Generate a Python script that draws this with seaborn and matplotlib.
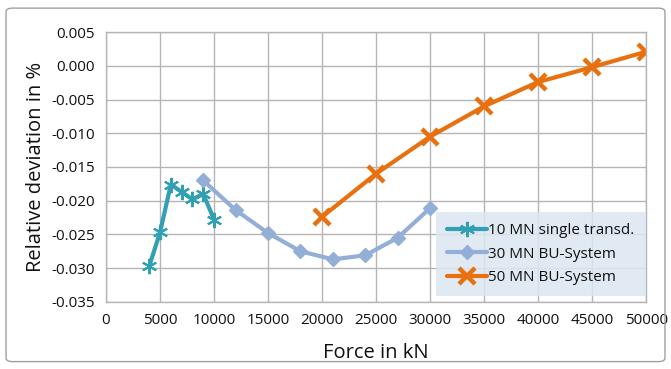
import matplotlib

matplotlib.use("Agg")
import matplotlib.pyplot as plt
import pandas as pd
import seaborn as sns
from matplotlib.patches import FancyBboxPatch
from matplotlib.ticker import FormatStrFormatter, MultipleLocator

# data
force_10mn = [4000, 5000, 6000, 7000, 8000, 9000, 10000]
dev_10mn = [-0.0297, -0.0247, -0.0176, -0.0187, -0.0198, -0.0190, -0.0228]

force_30mn = [9000, 12000, 15000, 18000, 21000, 24000, 27000, 30000]
dev_30mn = [-0.0170, -0.0214, -0.0248, -0.0275, -0.0287, -0.0281, -0.0255, -0.0211]

force_50mn = [20000, 25000, 30000, 35000, 40000, 45000, 50000]
dev_50mn = [-0.0224, -0.0160, -0.0105, -0.0060, -0.0024, -0.0002, 0.0021]

labels = ["10 MN single transd.", "30 MN BU-System", "50 MN BU-System"]
colors = ["#31A0B3", "#93AFD8", "#E8700F"]

sns.set_style("white")
plt.rcParams["font.family"] = ["Open Sans", "DejaVu Sans"]
plt.rcParams["axes.unicode_minus"] = False

fig = plt.figure(figsize=(6.71, 3.69), dpi=100)
ax = fig.add_axes([0.158, 0.182, 0.805, 0.731])

frames = [
    pd.DataFrame({"force": force_10mn, "dev": dev_10mn}),
    pd.DataFrame({"force": force_30mn, "dev": dev_30mn}),
    pd.DataFrame({"force": force_50mn, "dev": dev_50mn}),
]
markers = [(6, 2, 0), "D", "x"]
msizes = [11, 7, 11]
mews = [1.5, 1, 3.2]

for df, lab, col, mk, ms_, mew in zip(frames, labels, colors, markers, msizes, mews):
    sns.lineplot(data=df, x="force", y="dev", ax=ax, color=col, linewidth=3,
                 marker=mk, markersize=ms_, markeredgewidth=mew,
                 markeredgecolor=col, markerfacecolor=col, label=lab)

ax.set_xlim(0, 50000)
ax.set_ylim(-0.035, 0.005)
ax.xaxis.set_major_locator(MultipleLocator(5000))
ax.yaxis.set_major_locator(MultipleLocator(0.005))
ax.yaxis.set_major_formatter(FormatStrFormatter("%.3f"))
ax.grid(True, color="#B5B5B5", linewidth=1)
ax.set_axisbelow(True)
for sp in ax.spines.values():
    sp.set_color("#B5B5B5")
    sp.set_linewidth(1)
ax.tick_params(axis="both", labelsize=11, colors="#111111", length=0, pad=8)
ax.set_xlabel("Force in kN", fontsize=14.5, color="#111111", labelpad=11)
ax.set_ylabel("Relative deviation in %", fontsize=14.5, color="#111111", labelpad=4)

leg = ax.legend(loc="lower right", bbox_to_anchor=(1.0, 0.02), frameon=True,
                fontsize=11, handlelength=2.6, borderpad=0.75, labelspacing=0.55,
                handletextpad=0.1, borderaxespad=0)
leg.get_frame().set_facecolor("#DCE6F2")
leg.get_frame().set_edgecolor("none")
leg.get_frame().set_alpha(0.85)
leg.get_frame().set_boxstyle("square", pad=0)
for t in leg.get_texts():
    t.set_color("#111111")

fig.patches.append(FancyBboxPatch((0.009, 0.02), 0.982, 0.958, boxstyle="round,pad=0,rounding_size=0.01",
                                  transform=fig.transFigure, facecolor="none",
                                  edgecolor="#A0A0A0", linewidth=1))

fig.savefig("out.png", dpi=100)
